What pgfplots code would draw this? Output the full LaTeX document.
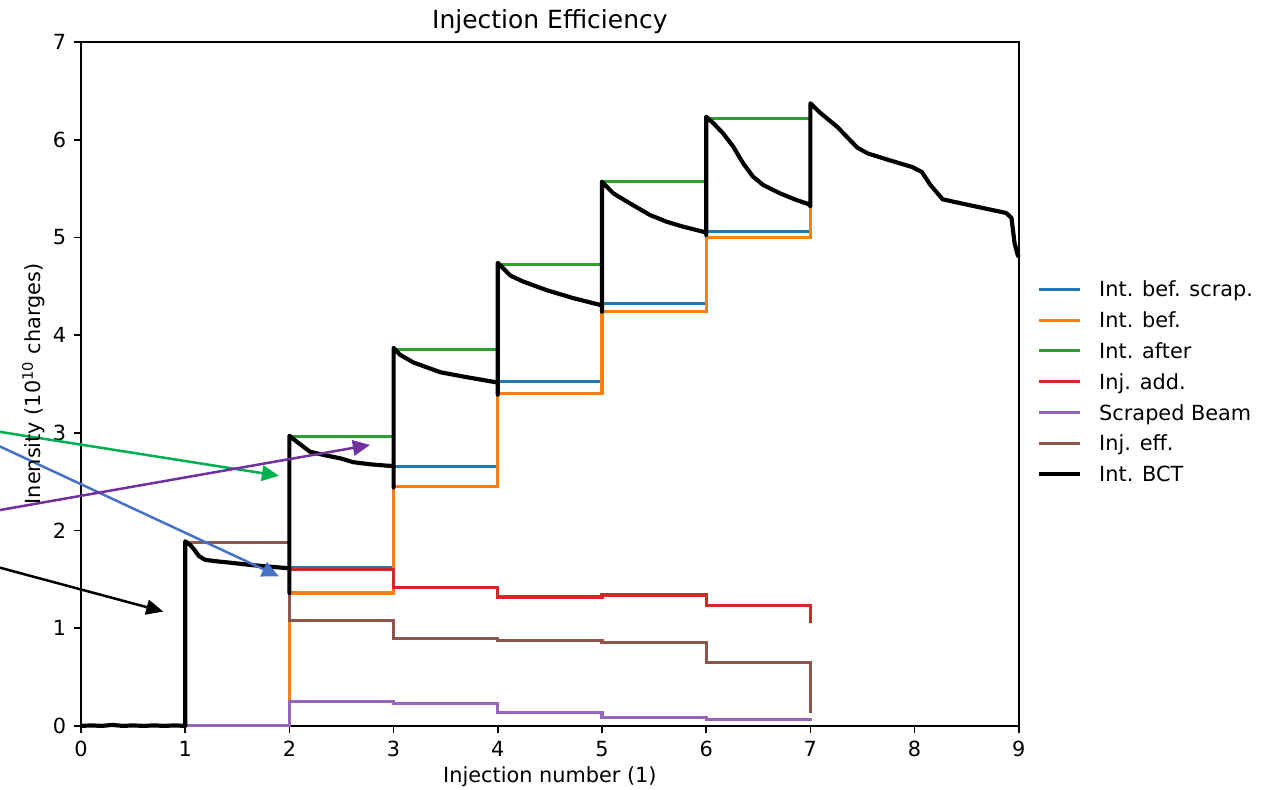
\documentclass[border=0pt]{standalone}
\usepackage{fontspec}
\setmainfont{DejaVu Sans}
\usepackage{pgfplots}
\pgfplotsset{compat=1.18}
\usetikzlibrary{arrows.meta}
\definecolor{tabblue}{HTML}{1F77B4}
\definecolor{taborange}{HTML}{FF7F0E}
\definecolor{tabgreen}{HTML}{2CA02C}
\definecolor{tabred}{HTML}{D62728}
\definecolor{tabpurple}{HTML}{9467BD}
\definecolor{tabbrown}{HTML}{8C564B}
\definecolor{arrgreen}{RGB}{0,176,80}
\definecolor{arrblue}{RGB}{68,114,196}
\definecolor{arrpurple}{RGB}{112,48,160}
\begin{document}
\fontsize{10}{12}\selectfont
\begin{tikzpicture}
\useasboundingbox (-38.9pt,-30.7pt) rectangle (573.7pt,348.5pt);
\begin{axis}[
  at={(0pt,0pt)}, anchor=south west, scale only axis,
  width=450.2pt, height=328.3pt,
  xmin=0, xmax=9, ymin=0, ymax=7,
  xtick={0,1,...,9}, ytick={0,1,...,7},
  tick align=outside, xtick pos=left, ytick pos=left,
  major tick length=3.5pt,
  every tick/.style={black, line width=0.8pt},
  axis line style={line width=0.8pt},
  /pgf/number format/assume math mode=true,
  ticklabel style={font=\fontsize{10}{12}\selectfont, inner sep=0pt},
  xticklabel style={anchor=north, yshift=-3.5pt},
  yticklabel style={anchor=east, xshift=-3.5pt},
  clip=false,
  title={Injection Efficiency},
  title style={at={(axis description cs:0.5,1)}, anchor=base, yshift=0.5pt, font=\fontsize{12}{14}\selectfont, inner sep=0pt},
  xlabel={Injection number (1)},
  xlabel style={at={(axis description cs:0.5,0)}, anchor=base, yshift=-27.4pt, inner sep=0pt},
  ylabel={Inensity (10\textsuperscript{10} charges)},
  every axis y label/.style={at={(axis description cs:-0.0433,0.5)}, rotate=90, anchor=base, inner sep=0pt},
  legend cell align=left,
  legend style={at={(axis description cs:1.0192,0.6505)}, anchor=north west, draw=none, fill=none,
    inner sep=0pt, outer sep=0pt, row sep=4.78pt, column sep=8pt,
    nodes={inner sep=0pt, outer sep=0pt, text height=7.6pt, text depth=2.4pt, anchor=base west},
    font=\fontsize{10}{12}\selectfont},
  legend image code/.code={\draw[#1] (0pt,3.65pt) -- (20pt,3.65pt);},
]
\addplot[const plot, color=tabblue, line width=1.5pt] coordinates {
 (1,0) (2,1.617) (3,2.655) (4,3.525) (5,4.32) (6,5.06) (7,5.33)};
\addlegendentry{Int. bef. scrap.}
\addplot[const plot, color=taborange, line width=1.5pt] coordinates {
 (1,0) (2,1.36) (3,2.45) (4,3.40) (5,4.24) (6,5.00) (7,5.30)};
\addlegendentry{Int. bef.}
\addplot[const plot, color=tabgreen, line width=1.5pt] coordinates {
 (1,1.88) (2,2.96) (3,3.85) (4,4.72) (5,5.57) (6,6.22) (7,6.22)};
\addlegendentry{Int. after}
\addplot[const plot, color=tabred, line width=1.5pt] coordinates {
 (1,1.88) (2,1.60) (3,1.415) (4,1.32) (5,1.34) (6,1.23) (7,1.05)};
\addlegendentry{Inj. add.}
\addplot[const plot, color=tabpurple, line width=1.5pt] coordinates {
 (1,0) (2,0.25) (3,0.225) (4,0.133) (5,0.09) (6,0.065) (7,0.055)};
\addlegendentry{Scraped Beam}
\addplot[const plot, color=tabbrown, line width=1.5pt] coordinates {
 (1,1.88) (2,1.075) (3,0.895) (4,0.87) (5,0.855) (6,0.65) (7,0.13)};
\addlegendentry{Inj. eff.}
\addplot[color=black, line width=2pt, line join=round] coordinates {
 (0,0.0) (0.1,0.005) (0.2,0.0) (0.3,0.01) (0.4,0.0) (0.5,0.005) (0.6,0.0) (0.7,0.005) (0.8,0.0) (0.9,0.005) (1.0,0.0)
 (1.0,1.89) (1.05,1.85) (1.09,1.80) (1.13,1.74) (1.19,1.70) (1.30,1.685) (1.43,1.671) (1.62,1.648) (1.81,1.63) (1.99,1.614)
 (2.0,1.61) (2.0,1.36) (2.0,2.97)
 (2.07,2.91) (2.197,2.807) (2.325,2.774) (2.485,2.74) (2.61,2.70) (2.773,2.678) (2.933,2.664) (3.0,2.66) (3.0,2.44) (3.0,3.87)
 (3.06,3.80) (3.19,3.72) (3.45,3.62) (3.70,3.57) (3.97,3.52) (4.0,3.52) (4.0,3.39) (4.0,4.74)
 (4.12,4.61) (4.24,4.55) (4.47,4.46) (4.72,4.38) (4.98,4.31) (5.0,4.30) (5.0,4.24) (5.0,5.57)
 (5.108,5.452) (5.268,5.349) (5.46,5.23) (5.62,5.161) (5.78,5.11) (5.97,5.059) (6.0,5.05) (6.0,5.025) (6.0,6.236)
 (6.07,6.168) (6.163,6.065) (6.26,5.929) (6.355,5.759) (6.45,5.622) (6.547,5.537) (6.707,5.452) (6.867,5.383) (6.98,5.342)
 (7.0,5.32) (7.0,6.373)
 (7.09,6.28) (7.26,6.13) (7.45,5.92) (7.55,5.86) (7.76,5.79) (7.98,5.72) (8.07,5.67) (8.15,5.54) (8.27,5.39)
 (8.53,5.33) (8.88,5.25) (8.93,5.20) (8.96,4.94) (8.99,4.82) (9.0,4.80)};
\addlegendentry{Int. BCT}
\addplot[forget plot, color=arrgreen, line width=1.2pt, -{Triangle[length=8.2pt,width=7.4pt]}] coordinates {(-0.85,3.022) (1.90,2.56)};
\addplot[forget plot, color=arrblue, line width=1.2pt, -{Triangle[length=8.2pt,width=7.4pt]}] coordinates {(-0.85,2.896) (1.90,1.53)};
\addplot[forget plot, color=arrpurple, line width=1.2pt, -{Triangle[length=8.2pt,width=7.4pt]}] coordinates {(-0.85,2.196) (2.773,2.876)};
\addplot[forget plot, color=black, line width=1.2pt, -{Triangle[length=8.2pt,width=7.2pt]}] coordinates {(-0.85,1.64) (0.79,1.17)};
\end{axis}
\end{tikzpicture}
\end{document}
